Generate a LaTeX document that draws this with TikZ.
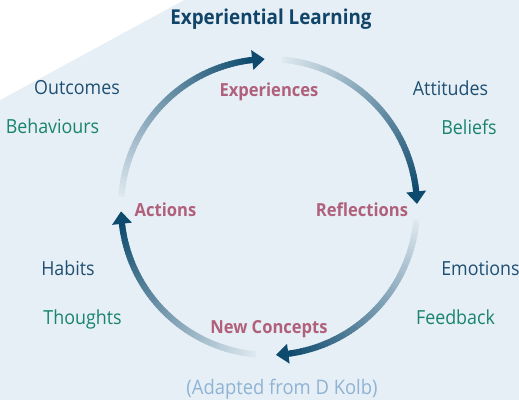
\documentclass[tikz,border=0pt]{standalone}
\usepackage{fontspec}
\setmainfont{Open Sans}[FakeStretch=0.92]
\definecolor{bgc}{HTML}{E6EFF5}
\definecolor{navy}{HTML}{0E4A6D}
\definecolor{titlec}{HTML}{104468}
\definecolor{dblue}{HTML}{1F4F73}
\definecolor{teal}{HTML}{18836F}
\definecolor{mauve}{HTML}{B0607A}
\definecolor{adapt}{HTML}{8FB3D4}
\begin{document}
\begin{tikzpicture}[x=1pt,y=1pt,
  lbl/.style={anchor=base, inner sep=0pt, font=\fontsize{19.4}{22}\selectfont},
  outer/.style={lbl, text=dblue},
  inner/.style={lbl, text=teal},
  stage/.style={anchor=base, inner sep=0pt, text=mauve, font=\fontsize{18}{20}\selectfont\bfseries},
]
\useasboundingbox (0,0) rectangle (519,400);
\fill[bgc] (0,0) rectangle (519,400);
\fill[white] (0,400) -- (184,400) -- (0,300) -- cycle;

% cycle arcs
\begin{scope}[shift={(269,193)}]
\foreach \s/\e in {176/96.5, 85/6, -5/-82.5, -95/-173.5}{
  \foreach \i in {1,...,60}{
    \pgfmathsetmacro\aa{\s+(\e-\s)*(\i-1)/60}
    \pgfmathsetmacro\bb{\s+(\e-\s)*(\i+0.3)/60}
    \pgfmathtruncatemacro\pc{3+97*\i/60}
    \draw[line width=6.2pt, line cap=butt, draw=navy!\pc!bgc] (\aa:148pt) arc[start angle=\aa, end angle=\bb, radius=148pt];
  }
  \pgfmathsetmacro\t{\e-4.8}
  \fill[navy] (\t:148pt) -- (\e:158pt) -- (\e:138pt) -- cycle;
}
\end{scope}

\node[anchor=base, inner sep=0pt, text=titlec, font=\fontsize{20.5}{24}\selectfont\bfseries] (title) at (271,375) {Experiential Learning};

\node[stage] (exp) at (269,304) {Experiences};
\node[stage] (refl) at (362,184) {Reflections};
\node[stage] (act) at (165.5,184) {Actions};
\node[stage] (newc) at (269,67) {New Concepts};

\node[outer] (outc) at (77,306) {Outcomes};
\node[inner] (behav) at (52.5,267) {Behaviours};
\node[outer] (att) at (450.5,305) {Attitudes};
\node[inner] (bel) at (469,266) {Beliefs};
\node[outer] (hab) at (68,125) {Habits};
\node[inner] (thou) at (82.5,76) {Thoughts};
\node[outer] (emo) at (480.5,125) {Emotions};
\node[inner] (feed) at (455.5,76) {Feedback};

\node[lbl, text=adapt, font=\fontsize{20}{24}\selectfont] (src) at (282,5.5) {(Adapted from D Kolb)};
\end{tikzpicture}
\end{document}
